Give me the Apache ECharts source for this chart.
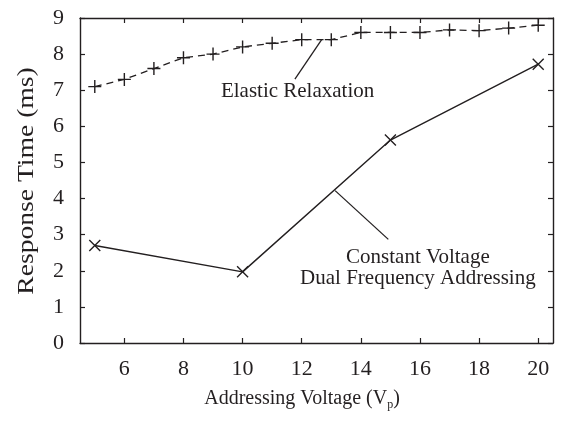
<!DOCTYPE html>
<html>
<head>
<meta charset="utf-8">
<script src="https://cdn.jsdelivr.net/npm/echarts@6/dist/echarts.min.js"></script>
<style>
  html, body { margin: 0; padding: 0; background: #fff; }
  #chart { width: 561px; height: 422px; }
</style>
</head>
<body>
<div id="chart"></div>
<script>
  // 数据
  const elasticX = [5, 6, 7, 8, 9, 10, 11, 12, 13, 14, 15, 16, 17, 18, 19, 20]
  const elasticY = [7.1, 7.3, 7.6, 7.9, 8.0, 8.2, 8.3, 8.4, 8.4, 8.6, 8.6, 8.6, 8.67, 8.65, 8.72, 8.8]
  const dualX = [5, 10, 15, 20]
  const dualY = [2.7, 1.97, 5.62, 7.72]
  const xTicks = [6, 8, 10, 12, 14, 16, 18, 20]

  const INK = '#231f20'
  const FONT = '"Liberation Serif", "DejaVu Serif", serif'
  const PLUS = 'path://M0,5L10,5M5,0L5,10'
  const CROSS = 'path://M0,0L10,10M0,10L10,0'

  // 注释（数据坐标）
  const notes = [
    { text: 'Elastic Relaxation', at: [11.86, 6.96], from: [11.77, 7.31], to: [12.68, 8.41] },
    { text: 'Constant Voltage', at: [15.93, 2.38], from: [14.93, 2.87], to: [13.13, 4.22] },
    { text: 'Dual Frequency Addressing', at: [15.93, 1.8] }
  ]

  const pairs = (xs, ys) => xs.map((x, i) => [x, ys[i]])

  const axisLine = { show: true, onZero: false, lineStyle: { color: INK, width: 1.4 } }
  const tick = { show: true, inside: true, length: 5, lineStyle: { color: INK, width: 1.2 } }

  const chart = echarts.init(document.getElementById('chart'), null, { renderer: 'canvas' })

  chart.setOption({
    animation: false,
    backgroundColor: '#ffffff',
    grid: { left: 80, right: 8, top: 18, bottom: 79, containLabel: false },
    xAxis: [
      {
        type: 'value', min: 4.5, max: 20.5, position: 'bottom',
        axisLine: axisLine,
        axisTick: Object.assign({ customValues: xTicks }, tick),
        axisLabel: { customValues: xTicks, color: INK, fontSize: 22, fontFamily: FONT, margin: 15 },
        splitLine: { show: false }
      },
      {
        type: 'value', min: 4.5, max: 20.5, position: 'top',
        axisLine: axisLine,
        axisTick: Object.assign({ customValues: xTicks }, tick),
        axisLabel: { show: false },
        splitLine: { show: false }
      }
    ],
    yAxis: [
      {
        type: 'value', min: 0, max: 9, interval: 1, position: 'left',
        axisLine: axisLine, axisTick: tick,
        axisLabel: { color: INK, fontSize: 22, fontFamily: FONT, margin: 16 },
        splitLine: { show: false }
      },
      {
        type: 'value', min: 0, max: 9, interval: 1, position: 'right',
        axisLine: axisLine, axisTick: tick,
        axisLabel: { show: false },
        splitLine: { show: false }
      }
    ],
    series: [
      {
        name: 'Elastic Relaxation', type: 'line',
        data: pairs(elasticX, elasticY),
        symbol: PLUS, symbolSize: 13, showAllSymbol: true,
        lineStyle: { color: INK, width: 1.3, type: [7, 5] },
        itemStyle: { color: 'transparent', borderColor: INK, borderWidth: 1.4 }
      },
      {
        name: 'Dual Frequency', type: 'line',
        data: pairs(dualX, dualY),
        symbol: CROSS, symbolSize: 11,
        lineStyle: { color: INK, width: 1.4 },
        itemStyle: { color: 'transparent', borderColor: INK, borderWidth: 1.4 }
      }
    ]
  })

  // 注释和轴标题
  const px = (p) => chart.convertToPixel({ gridIndex: 0 }, p)
  const graphic = []
  notes.forEach(n => {
    const c = px(n.at)
    graphic.push({
      type: 'text', x: c[0], y: c[1],
      style: { text: n.text, fill: INK, fontSize: 21, fontFamily: FONT, align: 'center', verticalAlign: 'middle' }
    })
    if (n.from) {
      const a = px(n.from), b = px(n.to)
      graphic.push({
        type: 'line',
        shape: { x1: a[0], y1: a[1], x2: b[0], y2: b[1] },
        style: { stroke: INK, lineWidth: 1.3 }
      })
    }
  })
  graphic.push({
    type: 'text', x: 302, y: 399,
    style: {
      text: '{a|Addressing Voltage (V}{s|p}{a|)}',
      align: 'center', verticalAlign: 'middle', fill: INK,
      rich: {
        a: { fontSize: 20, fontFamily: FONT, fill: INK, lineHeight: 24 },
        s: { fontSize: 12, fontFamily: FONT, fill: INK, lineHeight: 12, verticalAlign: 'bottom' }
      }
    }
  })
  graphic.push({
    type: 'text', x: 27, y: 181, rotation: Math.PI / 2, scaleX: 1.15,
    style: { text: 'Response Time (ms)', fill: INK, fontSize: 24, fontFamily: FONT, align: 'center', verticalAlign: 'middle' }
  })
  chart.setOption({ graphic: graphic })
</script>
</body>
</html>
